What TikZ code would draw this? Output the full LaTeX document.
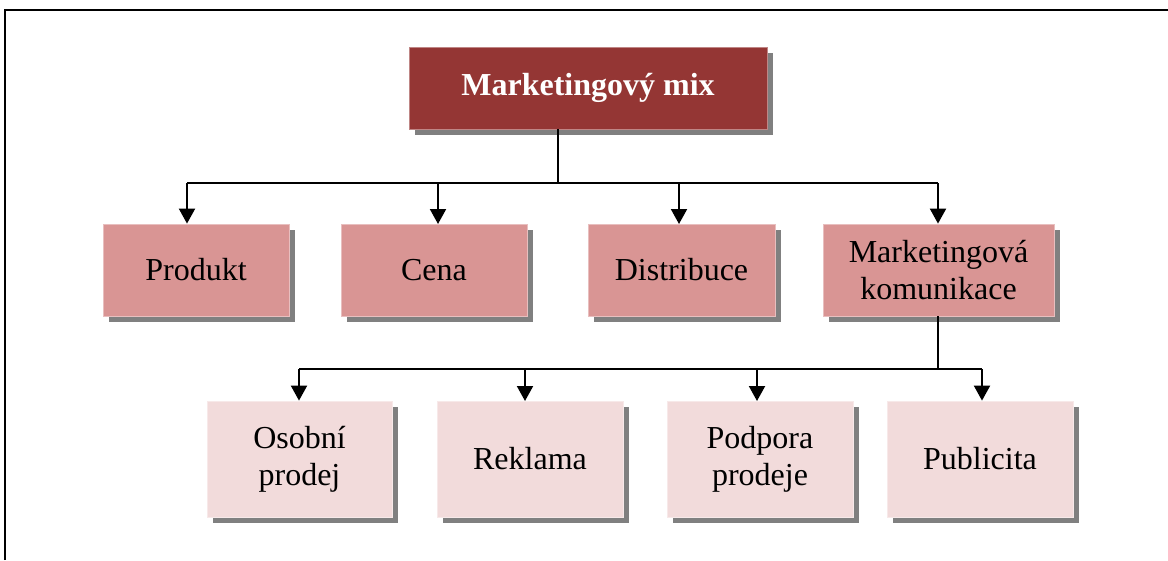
\documentclass[tikz,border=0pt]{standalone}
\usepackage{fontspec}
\setmainfont{Liberation Serif}
\usetikzlibrary{arrows.meta,shadows}
\definecolor{mixred}{HTML}{943634}
\definecolor{midrose}{HTML}{D99594}
\definecolor{palerose}{HTML}{F2DBDB}
\definecolor{shadowgray}{HTML}{808080}
\begin{document}
\begin{tikzpicture}[x=1pt,y=1pt,
  box/.style={rectangle, inner sep=0pt, align=center,
    font=\fontsize{32}{37}\selectfont, line width=0.8pt,
    drop shadow={shadow xshift=6pt, shadow yshift=-6pt, fill=shadowgray, opacity=1}},
  rootbox/.style={box, fill=mixred, draw=mixred!60!white, text=white,
    font=\fontsize{32}{37}\selectfont\bfseries,
    minimum width=358pt, minimum height=82pt},
  midbox/.style={box, fill=midrose, draw=midrose!60!white,
    minimum width=186pt, minimum height=92pt},
  leafbox/.style={box, fill=palerose, draw=palerose!60!white,
    minimum width=186pt, minimum height=116pt},
  link/.style={line width=2pt},
  feed/.style={link, -{Triangle[width=16pt,length=15pt]}}]
\useasboundingbox (0,0) rectangle (1168,-560);

% outer frame
\draw[line width=2.2pt] (5,-560) -- (5,-10) -- (1168,-10);

% root
\node[rootbox] (mix) at (588,-88) {Marketingový mix};

% second level
\node[midbox] (produkt) at (196,-270) {Produkt};
\node[midbox] (cena) at (434,-270) {Cena};
\node[midbox, minimum width=187pt] (distr) at (681.5,-270) {Distribuce};
\node[midbox, minimum width=231pt] (komun) at (938.5,-270) {Marketingová\\komunikace};

% third level
\node[leafbox, minimum width=185pt] (osobni) at (299.5,-459) {Osobní\\prodej};
\node[leafbox] (reklama) at (530,-459) {Reklama};
\node[leafbox] (podpora) at (760,-459) {Podpora\\prodeje};
\node[leafbox] (publ) at (980,-459) {Publicita};

% bus from the root
\coordinate (busA) at (558,-183);
\coordinate (busAl) at (187,-183);
\coordinate (busAr) at (938,-183);
\draw[link] (mix.south -| busA) -- (busA);
\draw[link] (busAl) -- (busAr);
\draw[feed] (busAl) -- (busAl |- produkt.north);
\draw[feed] (438,-183) -- (438,-224) coordinate (cenaTop);
\draw[feed] (679,-183) -- (679,-224) coordinate (distrTop);
\draw[feed] (busAr) -- (busAr |- komun.north);

% bus from the communication box
\coordinate (busB) at (938,-369);
\coordinate (busBl) at (299,-369);
\coordinate (busBr) at (982,-369);
\draw[link] (komun.south -| busB) -- (busB);
\draw[link] (busBl) -- (busBr);
\draw[feed] (busBl) -- (busBl |- osobni.north);
\draw[feed] (525,-369) -- (525,-401) coordinate (reklamaTop);
\draw[feed] (757,-369) -- (757,-401) coordinate (podporaTop);
\draw[feed] (busBr) -- (busBr |- publ.north);
\end{tikzpicture}
\end{document}
